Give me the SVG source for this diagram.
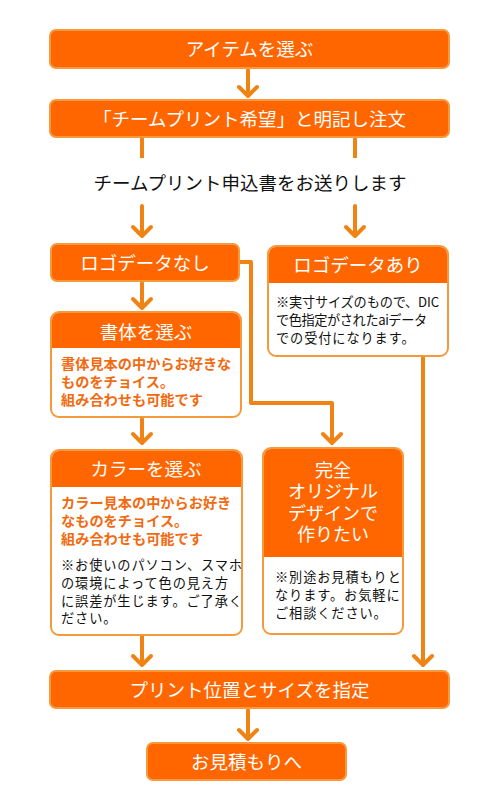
<svg xmlns="http://www.w3.org/2000/svg" width="500" height="800" viewBox="0 0 500 800">
<style>
.box{fill:#ff6600;stroke:#f59a3c;stroke-width:2}
.card{fill:#ffffff;stroke:#f59a3c;stroke-width:2}
.hd{fill:#ff6600}
.wt{fill:#ffffff;font-family:"Noto Sans CJK JP","Noto Sans",sans-serif;font-size:18.5px;text-anchor:middle}
.bk{fill:#111111;font-family:"Noto Sans CJK JP","Noto Sans",sans-serif;font-size:18.5px;text-anchor:middle}
.og{fill:#f26a10;font-family:"Noto Sans CJK JP","Noto Sans",sans-serif;font-size:14.2px;font-weight:bold}
.sm{fill:#111111;font-family:"Noto Sans CJK JP","Noto Sans",sans-serif;font-size:13.2px;letter-spacing:0.9px}
.ln{fill:none;stroke:#ef8414;stroke-width:4}
.ar{fill:none;stroke:#ef8414;stroke-width:4;stroke-linecap:round;stroke-linejoin:round}
</style>
<rect width="500" height="800" fill="#ffffff"/>
<g id="connectors">
<path class="ar" d="M248,70V96M239,87L248,96L257,87"/>
<path class="ln" d="M142,138V158M355,138V158"/>
<path class="ar" d="M142,206V236M133,227L142,236L151,227"/>
<path class="ar" d="M355,206V236M346,227L355,236L364,227"/>
<path class="ar" d="M142,283V308M133,299L142,308L151,299"/>
<path class="ar" d="M240,262H251V403H332V443M323,434L332,443L341,434"/>
<path class="ar" d="M142,419V443M133,434L142,443L151,434"/>
<path class="ar" d="M423,357V665M414,656L423,665L432,656"/>
<path class="ar" d="M142,636V665M133,656L142,665L151,656"/>
<path class="ar" d="M248,710V739M239,730L248,739L257,730"/>
</g>
<g id="n1">
<rect class="box" x="50" y="30" width="399" height="38" rx="6"/>
<text class="wt" x="249.5" y="55.5">アイテムを選ぶ</text>
</g>
<g id="n2">
<rect class="box" x="50" y="100" width="399" height="37" rx="6"/>
<text class="wt" x="249.5" y="125.5">「チームプリント希望」と明記し注文</text>
</g>
<g id="n3">
<text class="bk" x="250" y="189.5">チームプリント申込書をお送りします</text>
</g>
<g id="n4">
<rect class="box" x="51" y="244" width="188" height="37" rx="6"/>
<text class="wt" x="145" y="269.5">ロゴデータなし</text>
</g>
<g id="n5">
<rect class="card" x="268" y="246" width="180" height="110" rx="8"/>
<path class="hd" d="M269,254a7,7 0 0 1 7,-7H440a7,7 0 0 1 7,7V283H269Z"/>
<text class="wt" x="358" y="271.5">ロゴデータあり</text>
<text class="sm" x="276" y="307" textLength="164" lengthAdjust="spacing">※実寸サイズのもので、DIC</text>
<text class="sm" x="276" y="325" textLength="152" lengthAdjust="spacing">で色指定がされたaiデータ</text>
<text class="sm" x="276" y="343">での受付になります。</text>
</g>
<g id="n6">
<rect class="card" x="51" y="312" width="190" height="105" rx="8"/>
<path class="hd" d="M52,320a7,7 0 0 1 7,-7H233a7,7 0 0 1 7,7V348H52Z"/>
<text class="wt" x="146" y="338.5">書体を選ぶ</text>
<text class="og" x="61" y="369">書体見本の中からお好きな</text>
<text class="og" x="61" y="387">ものをチョイス。</text>
<text class="og" x="61" y="405">組み合わせも可能です</text>
</g>
<g id="n7">
<rect class="card" x="51" y="450" width="191" height="185" rx="8"/>
<path class="hd" d="M52,458a7,7 0 0 1 7,-7H234a7,7 0 0 1 7,7V487H52Z"/>
<text class="wt" x="146" y="475.5">カラーを選ぶ</text>
<text class="og" x="61" y="508">カラー見本の中からお好き</text>
<text class="og" x="61" y="526">なものをチョイス。</text>
<text class="og" x="61" y="544">組み合わせも可能です</text>
<text class="sm" x="61" y="570">※お使いのパソコン、スマホ</text>
<text class="sm" x="61" y="588">の環境によって色の見え方</text>
<text class="sm" x="61" y="606">に誤差が生じます。ご了承く</text>
<text class="sm" x="61" y="623">ださい。</text>
</g>
<g id="n8">
<rect class="card" x="263" y="448" width="140" height="186" rx="8"/>
<path class="hd" d="M264,456a7,7 0 0 1 7,-7H395a7,7 0 0 1 7,7V557H264Z"/>
<text class="wt" style="font-size:18px"><tspan x="333" y="476.5">完全</tspan><tspan x="333" y="498">オリジナル</tspan><tspan x="333" y="519.5">デザインで</tspan><tspan x="333" y="541">作りたい</tspan></text>
<text class="sm" x="275" y="582">※別途お見積もりと</text>
<text class="sm" x="275" y="600">なります。お気軽に</text>
<text class="sm" x="275" y="618">ご相談ください。</text>
</g>
<g id="n9">
<rect class="box" x="50" y="671" width="399" height="37" rx="6"/>
<text class="wt" x="249.5" y="696.5">プリント位置とサイズを指定</text>
</g>
<g id="n10">
<rect class="box" x="147" y="743" width="199" height="37" rx="6"/>
<text class="wt" x="246.5" y="768.5">お見積もりへ</text>
</g>
</svg>
